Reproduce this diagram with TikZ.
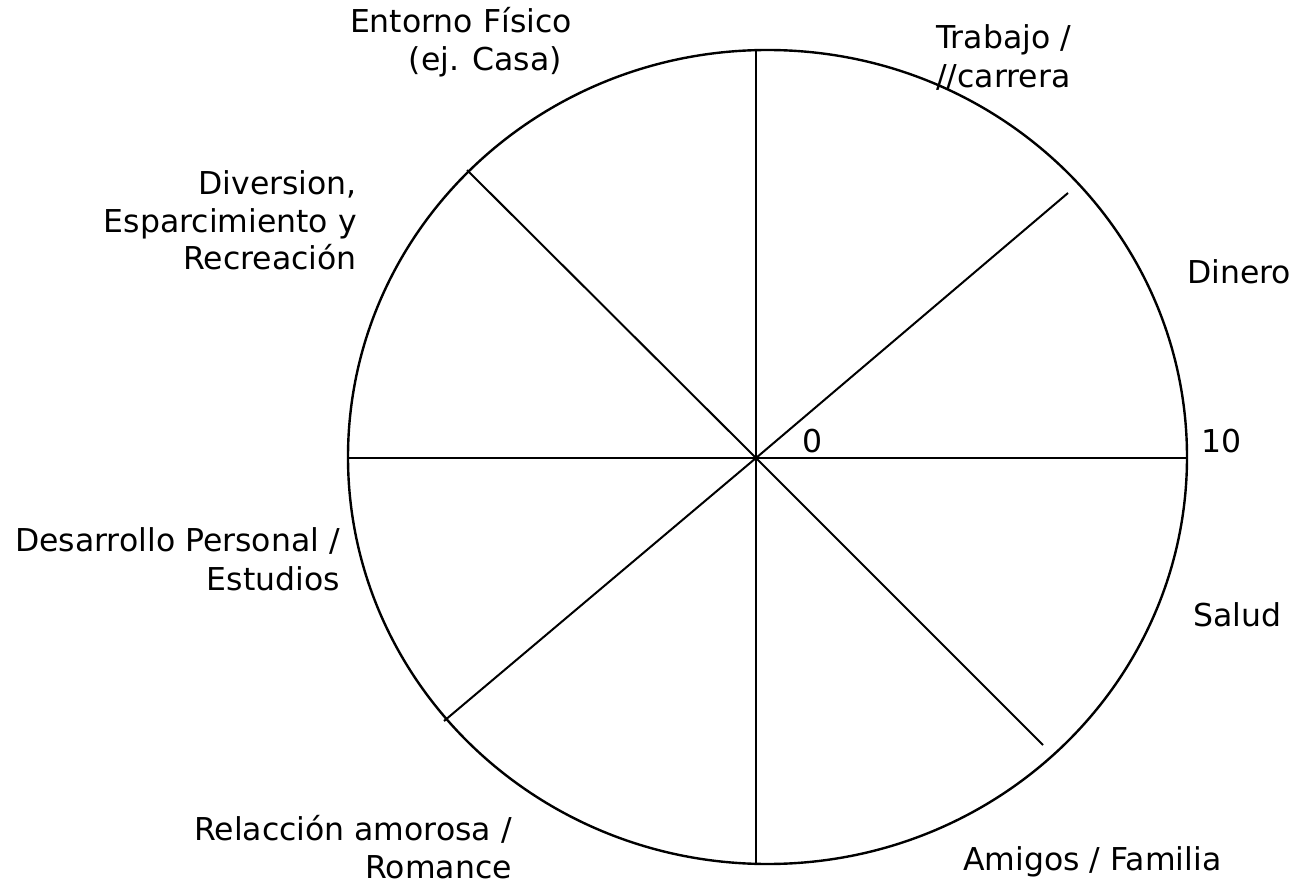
\documentclass[tikz,border=0pt]{standalone}
\usepackage{fontspec}
\setmainfont{DejaVu Sans}
\begin{document}
\begin{tikzpicture}[x=1pt,y=-1pt,
  lab/.style={inner sep=0pt, font=\fontsize{31.5}{38}\selectfont},
  spoke/.style={line width=2pt, line cap=butt},
  rim/.style={line width=2.4pt}]
\useasboundingbox (0,0) rectangle (1296,885);
% wheel
\coordinate (c) at (756,458);
\coordinate (top) at (756,50);
\coordinate (bot) at (756,864);
\coordinate (lft) at (348,458);
\coordinate (rgt) at (1187,458);
\coordinate (ul) at (467,170);
\coordinate (ll) at (444,721);
\coordinate (ur) at (1068,193);
\coordinate (lr) at (1043,745);
\draw[rim] (767.5,457) ellipse [x radius=419.5, y radius=407];
\draw[spoke] (top) -- (bot);
\draw[spoke] (lft) -- (rgt);
\draw[spoke] (c) -- (ul);
\draw[spoke] (c) -- (ll);
\draw[spoke] (c) -- (ur);
\draw[spoke] (c) -- (lr);
% labels
\node[lab, anchor=base east] (ent1) at (572,33) {Entorno Físico};
\node[lab, anchor=base east] (ent2) at (562,71) {(ej. Casa)};
\node[lab, anchor=base west] (tra1) at (936,49) {Trabajo /};
\node[lab, anchor=base west] (tra2) at (936,88) {//carrera};
\node[lab, anchor=base east] (div1) at (357,195) {Diversion,};
\node[lab, anchor=base east] (div2) at (357,233) {Esparcimiento y};
\node[lab, anchor=base east] (div3) at (357,270) {Recreación};
\node[lab, anchor=base west] (din) at (1187,284) {Dinero};
\node[lab, anchor=base west] (zero) at (802,452) {0};
\node[lab, anchor=base west] (ten) at (1201,452) {10};
\node[lab, anchor=base east] (des1) at (340,551) {Desarrollo Personal /};
\node[lab, anchor=base east] (des2) at (340,590) {Estudios};
\node[lab, anchor=base west] (sal) at (1193,626) {Salud};
\node[lab, anchor=base east] (rel1) at (512,840) {Relacción amorosa /};
\node[lab, anchor=base east] (rel2) at (512,878) {Romance};
\node[lab, anchor=base west] (ami) at (963,870) {Amigos / Familia};
\end{tikzpicture}
\end{document}
